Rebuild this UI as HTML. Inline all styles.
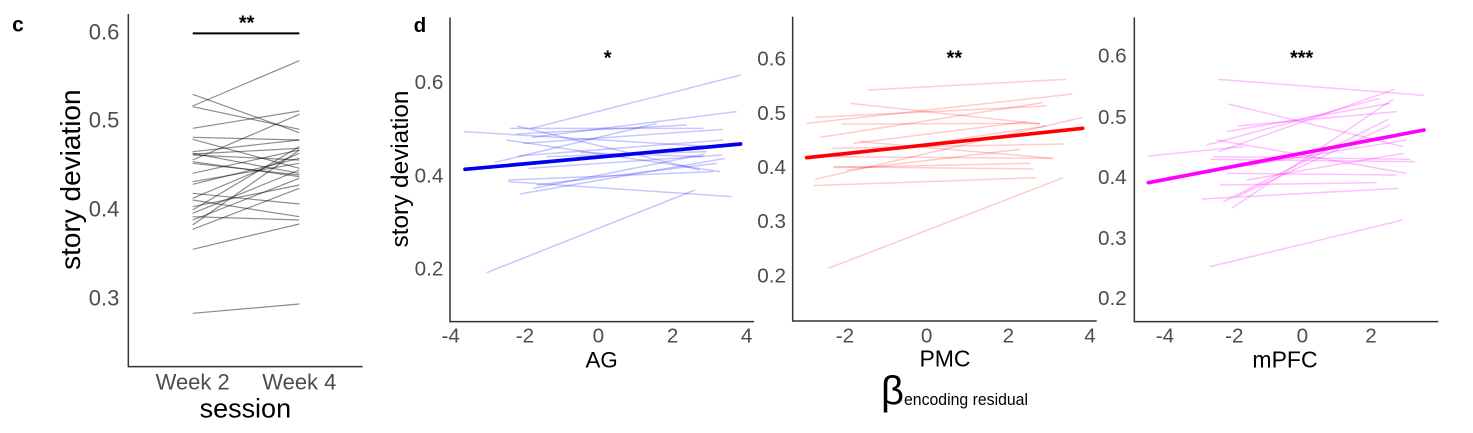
<!DOCTYPE html>
<html><head><meta charset="utf-8"><style>
html,body{margin:0;padding:0;background:#fff;}
svg{display:block;}
text{font-family:"Liberation Sans",sans-serif;}
</style></head><body>
<svg width="1473" height="433" viewBox="0 0 1473 433" xmlns="http://www.w3.org/2000/svg">
<rect width="1473" height="433" fill="#fff"/>

<!-- Panel c -->
<g transform="scale(0.33333)">
  <g stroke="#000" stroke-opacity="0.45" stroke-width="3.6" fill="none">
    <line x1="578" y1="283" x2="898" y2="398"/>
    <line x1="578" y1="318" x2="898" y2="182"/>
    <line x1="578" y1="320" x2="898" y2="388"/>
    <line x1="578" y1="385" x2="898" y2="333"/>
    <line x1="578" y1="412" x2="898" y2="420"/>
    <line x1="578" y1="418" x2="898" y2="505"/>
    <line x1="578" y1="462" x2="898" y2="445"/>
    <line x1="578" y1="465" x2="898" y2="480"/>
    <line x1="578" y1="480" x2="898" y2="343"/>
    <line x1="578" y1="485" x2="898" y2="530"/>
    <line x1="578" y1="490" x2="898" y2="525"/>
    <line x1="578" y1="520" x2="898" y2="450"/>
    <line x1="578" y1="553" x2="898" y2="475"/>
    <line x1="578" y1="580" x2="898" y2="612"/>
    <line x1="578" y1="595" x2="898" y2="460"/>
    <line x1="578" y1="600" x2="898" y2="650"/>
    <line x1="578" y1="620" x2="898" y2="555"/>
    <line x1="578" y1="640" x2="898" y2="510"/>
    <line x1="578" y1="650" x2="898" y2="660"/>
    <line x1="578" y1="660" x2="898" y2="535"/>
    <line x1="578" y1="675" x2="898" y2="450"/>
    <line x1="578" y1="688" x2="898" y2="565"/>
    <line x1="578" y1="748" x2="898" y2="672"/>
    <line x1="578" y1="940" x2="898" y2="912"/>
    <line x1="578" y1="455" x2="898" y2="420"/>
    <line x1="578" y1="545" x2="898" y2="490"/>
    <line x1="578" y1="630" x2="898" y2="440"/>
    <line x1="578" y1="460" x2="898" y2="520"/>
  </g>
  <line x1="385" y1="42" x2="385" y2="1100" stroke="#333" stroke-width="4.5"/>
  <line x1="383" y1="1100" x2="1088" y2="1100" stroke="#333" stroke-width="4.5"/>
  <g fill="#4d4d4d" font-size="66" text-anchor="end">
    <text x="358" y="119">0.6</text>
    <text x="358" y="382">0.5</text>
    <text x="358" y="649">0.4</text>
    <text x="358" y="917">0.3</text>
  </g>
  <g fill="#4d4d4d" font-size="66" text-anchor="middle">
    <text x="578" y="1169">Week 2</text>
    <text x="898" y="1169">Week 4</text>
  </g>
  <text x="736" y="1253" font-size="81" text-anchor="middle" fill="#000">session</text>
  <text transform="translate(240,539) rotate(-90)" font-size="84" text-anchor="middle" fill="#000">story deviation</text>
  <text x="54" y="95" font-size="63" font-weight="bold" text-anchor="middle" fill="#000">c</text>
  <line x1="578" y1="100" x2="898" y2="100" stroke="#000" stroke-width="6"/>
  <text x="740" y="89" font-size="60" font-weight="bold" text-anchor="middle" fill="#000">**</text>
</g>

<!-- Panel d: AG -->
<g transform="translate(380,0) scale(0.33333)">
  <g stroke="#0000ff" stroke-opacity="0.22" stroke-width="4.5" fill="none">
    <line x1="320" y1="818" x2="945" y2="570"/>
    <line x1="455" y1="385" x2="1082" y2="225"/>
    <line x1="252" y1="395" x2="1000" y2="440"/>
    <line x1="390" y1="385" x2="970" y2="385"/>
    <line x1="410" y1="378" x2="960" y2="510"/>
    <line x1="415" y1="468" x2="1030" y2="420"/>
    <line x1="420" y1="582" x2="1035" y2="475"/>
    <line x1="385" y1="545" x2="1055" y2="590"/>
    <line x1="380" y1="420" x2="1020" y2="515"/>
    <line x1="460" y1="565" x2="975" y2="462"/>
    <line x1="445" y1="505" x2="1025" y2="465"/>
    <line x1="410" y1="402" x2="920" y2="375"/>
    <line x1="600" y1="458" x2="970" y2="470"/>
    <line x1="385" y1="540" x2="1000" y2="515"/>
    <line x1="455" y1="412" x2="1070" y2="335"/>
    <line x1="345" y1="487" x2="830" y2="370"/>
    <line x1="430" y1="430" x2="1030" y2="388"/>
    <line x1="470" y1="555" x2="1010" y2="490"/>
    <line x1="500" y1="470" x2="980" y2="455"/>
  </g>
  <line x1="255" y1="508" x2="1082" y2="432" stroke="#0000ee" stroke-width="11" stroke-linecap="round"/>
  <line x1="210" y1="52" x2="210" y2="965" stroke="#333" stroke-width="4.5"/>
  <line x1="208" y1="965" x2="1122" y2="965" stroke="#333" stroke-width="4.5"/>
  <g fill="#4d4d4d" font-size="62" text-anchor="end">
    <text x="190" y="267">0.6</text>
    <text x="190" y="547">0.4</text>
    <text x="190" y="827">0.2</text>
  </g>
  <g fill="#4d4d4d" font-size="62" text-anchor="middle">
    <text x="212" y="1027">-4</text>
    <text x="435" y="1027">-2</text>
    <text x="655" y="1027">0</text>
    <text x="878" y="1027">2</text>
    <text x="1100" y="1027">4</text>
  </g>
  <text x="665" y="1102" font-size="67" text-anchor="middle" fill="#000">AG</text>
  <text transform="translate(84,507) rotate(-90)" font-size="73" text-anchor="middle" fill="#000">story deviation</text>
  <text x="120" y="96" font-size="62" font-weight="bold" text-anchor="middle" fill="#000">d</text>
  <text x="683" y="194" font-size="60" font-weight="bold" text-anchor="middle" fill="#000">*</text>
</g>

<!-- Panel PMC -->
<g transform="translate(760,0) scale(0.33333)">
  <g stroke="#ff0000" stroke-opacity="0.2" stroke-width="4.5" fill="none">
    <line x1="205" y1="805" x2="910" y2="533"/>
    <line x1="325" y1="270" x2="918" y2="238"/>
    <line x1="272" y1="310" x2="840" y2="372"/>
    <line x1="140" y1="370" x2="938" y2="282"/>
    <line x1="165" y1="352" x2="860" y2="318"/>
    <line x1="165" y1="538" x2="968" y2="352"/>
    <line x1="160" y1="557" x2="828" y2="533"/>
    <line x1="180" y1="412" x2="848" y2="308"/>
    <line x1="220" y1="500" x2="820" y2="507"/>
    <line x1="215" y1="445" x2="912" y2="432"/>
    <line x1="260" y1="510" x2="780" y2="448"/>
    <line x1="300" y1="425" x2="878" y2="475"/>
    <line x1="245" y1="372" x2="840" y2="370"/>
    <line x1="220" y1="503" x2="810" y2="490"/>
    <line x1="230" y1="470" x2="860" y2="378"/>
    <line x1="280" y1="430" x2="800" y2="365"/>
    <line x1="200" y1="470" x2="878" y2="475"/>
  </g>
  <line x1="140" y1="473" x2="968" y2="385" stroke="#ff0000" stroke-width="11" stroke-linecap="round"/>
  <line x1="98" y1="50" x2="98" y2="963" stroke="#333" stroke-width="4.5"/>
  <line x1="96" y1="963" x2="1010" y2="963" stroke="#333" stroke-width="4.5"/>
  <g fill="#4d4d4d" font-size="62" text-anchor="end">
    <text x="78" y="197">0.6</text>
    <text x="78" y="360">0.5</text>
    <text x="78" y="522">0.4</text>
    <text x="78" y="684">0.3</text>
    <text x="78" y="847">0.2</text>
  </g>
  <g fill="#4d4d4d" font-size="62" text-anchor="middle">
    <text x="255" y="1027">-2</text>
    <text x="500" y="1027">0</text>
    <text x="745" y="1027">2</text>
    <text x="990" y="1027">4</text>
  </g>
  <text x="555" y="1099" font-size="69" text-anchor="middle" fill="#000">PMC</text>
  <text x="583" y="194" font-size="60" font-weight="bold" text-anchor="middle" fill="#000">**</text>
</g>
<text x="881" y="404" font-size="40" fill="#000">β</text>
<text x="904" y="405" font-size="16.5" fill="#000" textLength="124" lengthAdjust="spacingAndGlyphs">encoding residual</text>

<!-- Panel mPFC -->
<g transform="translate(1100,0) scale(0.33333)">
  <g stroke="#ff00ff" stroke-opacity="0.25" stroke-width="4.5" fill="none">
    <line x1="330" y1="800" x2="908" y2="660"/>
    <line x1="355" y1="238" x2="972" y2="286"/>
    <line x1="145" y1="468" x2="430" y2="440"/>
    <line x1="385" y1="312" x2="910" y2="440"/>
    <line x1="415" y1="378" x2="890" y2="335"/>
    <line x1="320" y1="435" x2="840" y2="295"/>
    <line x1="355" y1="455" x2="883" y2="268"/>
    <line x1="305" y1="597" x2="895" y2="565"/>
    <line x1="395" y1="625" x2="880" y2="297"/>
    <line x1="370" y1="605" x2="865" y2="358"/>
    <line x1="330" y1="478" x2="945" y2="485"/>
    <line x1="360" y1="555" x2="830" y2="548"/>
    <line x1="350" y1="420" x2="920" y2="520"/>
    <line x1="410" y1="590" x2="870" y2="375"/>
    <line x1="380" y1="520" x2="890" y2="525"/>
    <line x1="340" y1="470" x2="930" y2="478"/>
    <line x1="380" y1="395" x2="870" y2="310"/>
    <line x1="420" y1="500" x2="920" y2="420"/>
    <line x1="440" y1="540" x2="910" y2="460"/>
  </g>
  <line x1="145" y1="548" x2="972" y2="390" stroke="#ff00ff" stroke-width="11" stroke-linecap="round"/>
  <line x1="103" y1="52" x2="103" y2="965" stroke="#333" stroke-width="4.5"/>
  <line x1="101" y1="965" x2="1015" y2="965" stroke="#333" stroke-width="4.5"/>
  <g fill="#4d4d4d" font-size="62" text-anchor="end">
    <text x="80" y="187">0.6</text>
    <text x="80" y="372">0.5</text>
    <text x="80" y="552">0.4</text>
    <text x="80" y="735">0.3</text>
    <text x="80" y="915">0.2</text>
  </g>
  <g fill="#4d4d4d" font-size="62" text-anchor="middle">
    <text x="195" y="1027">-4</text>
    <text x="403" y="1027">-2</text>
    <text x="607" y="1027">0</text>
    <text x="813" y="1027">2</text>
  </g>
  <text x="555" y="1102" font-size="69" text-anchor="middle" fill="#000">mPFC</text>
  <text x="605" y="194" font-size="60" font-weight="bold" text-anchor="middle" fill="#000">***</text>
</g>
</svg>
</body></html>
